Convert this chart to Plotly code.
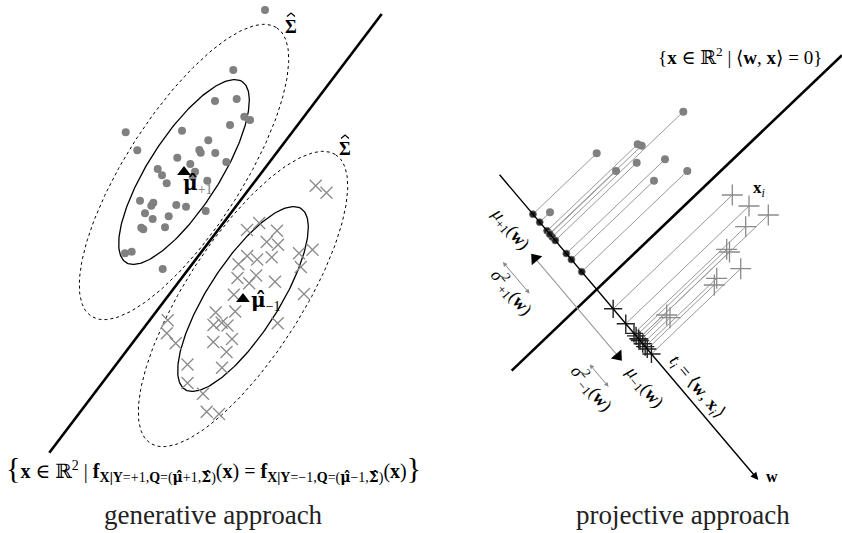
import numpy as np
import plotly.graph_objects as go

W, H = 842, 533

# ---------------- generative panel ----------------
# class +1 sample (dots), pixel coordinates
plus_x = [265.0, 233.3, 215.0, 236.7, 244.3, 250.0, 230.0, 125.7, 182.0, 208.3,
          137.3, 199.3, 200.7, 215.3, 177.3, 226.3, 190.3, 157.7, 195.0, 162.0,
          192.7, 166.7, 207.3, 140.0, 153.3, 151.3, 176.3, 186.0, 205.7, 145.0,
          168.7, 152.7, 141.3, 143.3, 165.0, 125.0, 131.7, 162.7]
plus_y = [10.0, 70.0, 101.0, 99.0, 116.7, 120.0, 125.0, 132.3, 130.7, 140.3,
          150.3, 150.0, 152.7, 153.0, 157.7, 162.0, 164.0, 169.0, 171.7, 175.3,
          176.7, 183.3, 180.7, 200.7, 202.7, 205.7, 205.0, 206.7, 211.0, 213.3,
          216.3, 219.0, 227.7, 229.3, 227.3, 253.3, 251.7, 269.0]

# class -1 sample (crosses)
minus_x = [315.7, 326.5, 247.0, 259.2, 277.0, 266.7, 278.0, 299.0, 312.5, 247.2,
           257.2, 271.7, 238.5, 300.8, 237.5, 256.2, 249.2, 275.0, 233.8, 304.0,
           235.2, 215.7, 277.7, 213.5, 221.7, 227.5, 167.7, 166.8, 175.7, 213.3,
           232.0, 226.5, 187.5, 222.0, 187.5, 203.0, 206.7, 219.0]
minus_y = [185.7, 192.7, 230.0, 223.0, 230.8, 242.0, 244.7, 253.3, 249.7, 256.0,
           259.5, 257.3, 264.2, 267.0, 278.0, 275.5, 283.3, 281.7, 294.7, 294.0,
           311.5, 312.5, 323.3, 325.0, 322.7, 325.5, 320.3, 333.3, 343.3, 342.0,
           339.0, 352.0, 364.5, 367.7, 383.0, 393.7, 411.7, 414.0]

mu_plus = [184.0, 172.0]
mu_minus = [243.0, 299.0]

# contour shapes: semi-axes (class covariance, pooled covariance) and tilt in degrees
ell_solid = [107.5, 35.5]
ell_dashed = [171.5, 58.0]
ell_tilt = 57.3

boundary_x = [49.3, 381.7]
boundary_y = [452.7, 14.0]

# ---------------- projective panel ----------------
proj_plus_x = [683.3, 596.7, 637.7, 641.7, 636.7, 665.0, 616.0, 687.3, 654.0, 550.0]
proj_plus_y = [111.7, 153.3, 144.3, 145.7, 162.7, 159.3, 171.0, 171.0, 180.7, 212.3]
proj_minus_x = [732.3, 749.0, 768.3, 745.7, 726.7, 729.5, 740.7, 716.7, 714.3, 666.7, 670.0]
proj_minus_y = [195.0, 206.0, 215.0, 226.7, 249.3, 252.0, 268.7, 278.3, 285.0, 315.0, 317.7]

# direction w (start / tip of arrow) and the hyperplane direction
w_start = [498.3, 173.3]
w_tip = [758.3, 480.0]
hyper_dir = [-1.0, 0.955]
hyper_t = 0.3785          # where the hyperplane crosses the w line
hyper_x_ext = [511.7, 842.0]

GRAY = "#808080"
SERIF = "Liberation Serif, DejaVu Serif, serif"


def ellipse(c, axes, tilt, n=240):
    a, b = axes
    th = np.radians(tilt)
    t = np.linspace(0, 2 * np.pi, n)
    u = np.array([np.cos(th), -np.sin(th)])
    v = np.array([np.sin(th), np.cos(th)])
    x = c[0] + a * np.cos(t) * u[0] + b * np.sin(t) * v[0]
    y = c[1] + a * np.cos(t) * u[1] + b * np.sin(t) * v[1]
    return x, y


fig = go.Figure()

# contours
for c in (mu_plus, mu_minus):
    ex, ey = ellipse(c, ell_dashed, ell_tilt)
    fig.add_trace(go.Scatter(x=ex, y=ey, mode="lines",
                             line=dict(color="black", width=1, dash="3px,3px")))
    ex, ey = ellipse(c, ell_solid, ell_tilt)
    fig.add_trace(go.Scatter(x=ex, y=ey, mode="lines",
                             line=dict(color="black", width=1.3)))

fig.add_trace(go.Scatter(x=plus_x, y=plus_y, mode="markers",
                         marker=dict(symbol="circle", size=8, color=GRAY)))
fig.add_trace(go.Scatter(x=minus_x, y=minus_y, mode="markers",
                         marker=dict(symbol="x-thin", size=12,
                                     line=dict(color="#8a8a8a", width=1.3))))
fig.add_trace(go.Scatter(x=boundary_x, y=boundary_y, mode="lines",
                         line=dict(color="black", width=2.6)))
fig.add_trace(go.Scatter(x=[mu_plus[0], mu_minus[0]], y=[mu_plus[1], mu_minus[1]],
                         mode="markers",
                         marker=dict(symbol="triangle-up", size=12, color="black")))

# projection geometry
s0 = np.array(w_start)
wv = np.array(w_tip) - s0
hd = np.array(hyper_dir)
hd_unit = hd / np.linalg.norm(hd)
wv_unit = wv / np.linalg.norm(wv)


def project(px, py):
    """t-coordinate on the w line of each point, moving parallel to the hyperplane."""
    A = np.array([[wv[0], -hd[0]], [wv[1], -hd[1]]])
    ts = []
    for x, y in zip(px, py):
        t, _ = np.linalg.solve(A, np.array([x, y]) - s0)
        ts.append(t)
    return np.array(ts)


def on_w(t):
    return s0[None, :] + np.outer(t, wv)


t_plus = project(proj_plus_x, proj_plus_y)
t_minus = project(proj_minus_x, proj_minus_y)
p_plus = on_w(t_plus)
p_minus = on_w(t_minus)

# projection segments
lx, ly = [], []
for xs, ys, pp in ((proj_plus_x, proj_plus_y, p_plus), (proj_minus_x, proj_minus_y, p_minus)):
    for x, y, q in zip(xs, ys, pp):
        lx += [x, q[0], None]
        ly += [y, q[1], None]
fig.add_trace(go.Scatter(x=lx, y=ly, mode="lines", line=dict(color="#999999", width=1)))

# hyperplane
hc = on_w(np.array([hyper_t]))[0]
hx = np.array(hyper_x_ext)
hy = hc[1] + (hx - hc[0]) * hd[1] / hd[0]
fig.add_trace(go.Scatter(x=hx, y=hy, mode="lines", line=dict(color="black", width=2.6)))

# w direction with arrow
fig.add_annotation(x=w_tip[0], y=w_tip[1], ax=w_start[0], ay=w_start[1],
                   xref="x", yref="y", axref="x", ayref="y", text="",
                   showarrow=True, arrowhead=2, arrowsize=1.1, arrowwidth=1.4,
                   arrowcolor="black")

# sample points and their projections
fig.add_trace(go.Scatter(x=proj_plus_x, y=proj_plus_y, mode="markers",
                         marker=dict(symbol="circle", size=8, color=GRAY)))
fig.add_trace(go.Scatter(x=proj_minus_x, y=proj_minus_y, mode="markers",
                         marker=dict(symbol="cross-thin", size=15,
                                     line=dict(color="#8a8a8a", width=1.3))))
fig.add_trace(go.Scatter(x=p_plus[:, 0], y=p_plus[:, 1], mode="markers",
                         marker=dict(symbol="circle", size=7, color="#222222",
                                     line=dict(color="#777777", width=0.8))))
fig.add_trace(go.Scatter(x=p_minus[:, 0], y=p_minus[:, 1], mode="markers",
                         marker=dict(symbol="cross-thin", size=13,
                                     line=dict(color="#222222", width=1.4))))

# projected class means and spreads, drawn beside the w line
m_off = 27.0
s_off = 54.0
wlen = np.linalg.norm(wv)
m_pts = on_w(np.array([t_plus.mean(), t_minus.mean()])) + m_off * hd_unit
fig.add_trace(go.Scatter(x=m_pts[:, 0], y=m_pts[:, 1], mode="lines",
                         line=dict(color="#999999", width=1.1)))
ang = np.degrees(np.arctan2(wv_unit[0], -wv_unit[1]))
fig.add_trace(go.Scatter(x=m_pts[:, 0], y=m_pts[:, 1], mode="markers",
                         marker=dict(symbol="triangle-up", size=12, color="black",
                                     angle=[ang + 180, ang])))
for tt in (t_plus, t_minus):
    c = on_w(np.array([tt.mean()]))[0] + s_off * hd_unit
    half = tt.std() * wlen
    a0 = c - half * wv_unit
    a1 = c + half * wv_unit
    fig.add_annotation(x=a1[0], y=a1[1], ax=a0[0], ay=a0[1], xref="x", yref="y",
                       axref="x", ayref="y", text="", showarrow=True,
                       arrowside="end+start", arrowhead=2, arrowsize=0.9,
                       arrowwidth=1, arrowcolor="#888888")


def label(x, y, text, size=16, angle=0, xanchor="center", color="black", family=SERIF):
    fig.add_annotation(x=x, y=y, xref="x", yref="y", text=text, showarrow=False,
                       textangle=angle, xanchor=xanchor, yanchor="middle",
                       font=dict(family=family, size=size, color=color))


def circumflex(x, y, half_w=4.0, h=3.5):
    """Small circumflex accent over a capital letter, top at (x, y)."""
    fig.add_shape(type="path", xref="x", yref="y",
                  path=f"M {x - half_w},{y + h} L {x},{y} L {x + half_w},{y + h}",
                  line=dict(color="black", width=1.2))


# accented lower-case symbols are set in DejaVu Serif, which places the combining
# circumflex well
hat_mu = "<span style='font-family:DejaVu Serif'><b>μ̂</b></span>"
hat_sig = "<span style='font-family:DejaVu Serif'><b>Σ̂</b></span>"

label(291, 27, "<b>Σ</b>", 18)
circumflex(291, 13)
label(345, 149, "<b>Σ</b>", 18)
circumflex(345, 135)
label(181, 184, hat_mu + "<sub><span style='color:#777'>+1</span></sub>", 20, xanchor="left")
label(249, 301, hat_mu + "<sub>−1</sub>", 20, xanchor="left")

label(213, 468,
      "<span style='font-size:30px'>{</span><b>x</b> ∈ ℝ<sup>2</sup> | "
      "<b>f</b><sub><b>X|Y</b>=+1,<b>Q</b>=(" + hat_mu + "+1," + hat_sig + ")</sub>(<b>x</b>) = "
      "<b>f</b><sub><b>X|Y</b>=−1,<b>Q</b>=(" + hat_mu + "−1," + hat_sig + ")</sub>(<b>x</b>)"
      "<span style='font-size:30px'>}</span>", 20)
label(740, 56, "{<b>x</b> ∈ ℝ<sup>2</sup> | ⟨<b>w</b>, <b>x</b>⟩ = 0}", 19)
label(751, 189, "<b>x</b><sub><i>i</i></sub>", 17, xanchor="left")
label(764, 476, "<b>w</b>", 16, xanchor="left")
label(510, 229, "<i>μ</i><sub>+1</sub>(<b>w</b>)", 18, angle=50)
label(512, 292, "<i>σ</i><sup>2</sup><sub>+1</sub>(<b>w</b>)", 18, angle=50)
label(592, 388, "<i>σ</i><sup>2</sup><sub>−1</sub>(<b>w</b>)", 18, angle=50)
label(644, 387, "<i>μ</i><sub>−1</sub>(<b>w</b>)", 18, angle=50)
label(697, 387, "<i>t</i><sub><i>i</i></sub> = ⟨<b>w</b>, <b>x</b><sub><i>i</i></sub>⟩", 18, angle=50)
label(213, 515, "generative approach", 27, color="#222")
label(683, 515, "projective approach", 27, color="#222")

fig.update_layout(
    width=W, height=H, autosize=False,
    margin=dict(l=0, r=0, t=0, b=0),
    paper_bgcolor="white", plot_bgcolor="white",
    showlegend=False,
    xaxis=dict(range=[0, W], visible=False, fixedrange=True),
    yaxis=dict(range=[H, 0], visible=False, fixedrange=True),
)

fig.write_html("out.html")
